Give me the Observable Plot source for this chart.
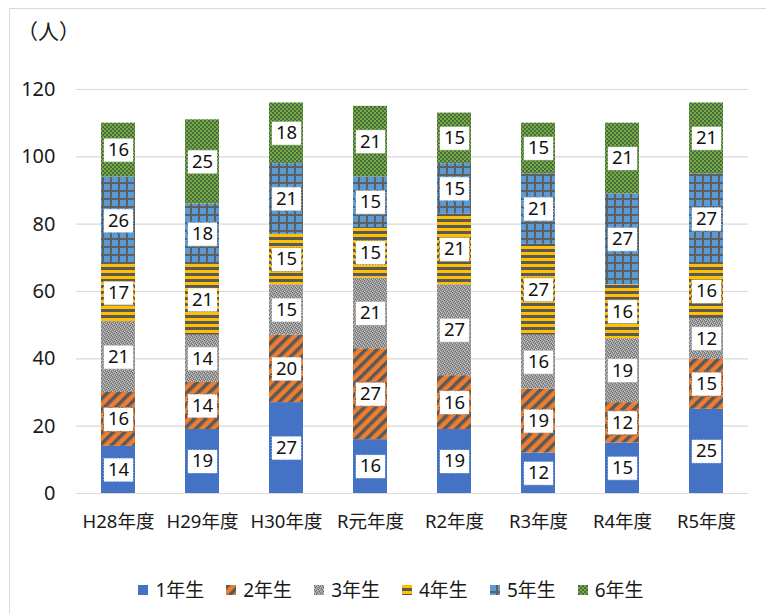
<!DOCTYPE html>
<html><head><meta charset="utf-8">
<script src="https://cdn.jsdelivr.net/npm/d3@7"></script>
<script src="https://cdn.jsdelivr.net/npm/@observablehq/plot@0.6"></script>
<style>
body{margin:0;background:#fff;font-family:"Noto Sans","Noto Sans CJK JP",sans-serif;color:#1a1a1a;}
#wrap{position:relative;width:766px;height:614px;overflow:hidden;background:#fff;}
#frame{position:absolute;left:9px;top:8px;width:800px;height:700px;border:1px solid #d9d9d9;box-sizing:border-box;pointer-events:none}
#legend{display:flex;justify-content:center;align-items:center;gap:22px;font-size:19px;line-height:24px;padding-top:18px;padding-left:16px;}
#legend .it{display:flex;align-items:center;gap:7px;}
</style></head><body><div id="wrap"><div id="frame"></div><div id="chart"></div><div id="legend"></div></div>
<script>
const years = ["H28年度","H29年度","H30年度","R元年度","R2年度","R3年度","R4年度","R5年度"];
const grades = ["1年生","2年生","3年生","4年生","5年生","6年生"];
const g1 = [14,19,27,16,19,12,15,25];
const g2 = [16,14,20,27,16,19,12,15];
const g3 = [21,14,15,21,27,16,19,12];
const g4 = [17,21,15,15,21,27,16,16];
const g5 = [26,18,21,15,15,21,27,27];
const g6 = [16,25,18,21,15,15,21,21];
const yTicks = [0,20,40,60,80,100,120];
const unitLabel = "（人）";

const series = [g1,g2,g3,g4,g5,g6];
const patternUrls = grades.map((g,i)=>`url(#pat${i+1})`);
const data = [];
series.forEach((vals,gi)=>vals.forEach((v,yi)=>data.push({year:years[yi],grade:grades[gi],value:v})));

const boxSymbol = {draw(ctx){ ctx.moveTo(-15,-12); ctx.lineTo(15,-12); ctx.lineTo(15,12); ctx.lineTo(-15,12); ctx.closePath(); }};

const chart = Plot.plot({
  width: 766, height: 560,
  marginLeft: 76, marginRight: 18, marginTop: 89, marginBottom: 67,
  style: {fontFamily:'"Noto Sans","Noto Sans CJK JP",sans-serif', fontSize:"18.5px", color:"#1a1a1a", background:"transparent"},
  x: {domain: years, paddingInner: 0.6, paddingOuter: 0.3, label: null},
  y: {domain: [0,120], label: null},
  color: {type:"ordinal", domain: grades, range: patternUrls},
  marks: [
    Plot.ruleY(yTicks, {stroke:"#d9d9d9", strokeWidth:1.2}),
    Plot.axisY({ticks: yTicks, tickSize:0, tickPadding:21, fontSize:20, label:null}),
    Plot.axisX({tickSize:0, tickPadding:21, label:null}),
    Plot.barY(data, Plot.stackY({x:"year", y:"value", z:"grade", fill:"grade", order:null})),
    Plot.dot(data, Plot.stackY({x:"year", y:"value", z:"grade", order:null, symbol: boxSymbol, fill:"white", stroke:"grade", strokeWidth:1, strokeDasharray:"2 1"})),
    Plot.text(data, Plot.stackY({x:"year", y:"value", z:"grade", order:null, text:"value", fill:"#111", fontSize:18.5})),
    Plot.text([unitLabel], {frameAnchor:"top-left", dx:-28, dy:-57, text:d=>d, textAnchor:"middle", lineAnchor:"middle", fontSize:21})
  ]
});

const defs = `
<pattern id="pat1" patternUnits="userSpaceOnUse" width="4" height="4"><rect width="4" height="4" fill="#4472C4"/></pattern>
<pattern id="pat2" patternUnits="userSpaceOnUse" width="8" height="8" patternTransform="rotate(45)"><rect width="8" height="8" fill="#ED7D31"/><rect width="3.5" height="8" fill="#595959"/></pattern>
<pattern id="pat3" patternUnits="userSpaceOnUse" width="4" height="4"><rect width="4" height="4" fill="#999999"/><rect x="0" y="0" width="1" height="1" fill="#6e6e6e"/><rect x="2" y="1" width="1" height="1" fill="#6e6e6e"/><rect x="1" y="2" width="1" height="1" fill="#6e6e6e"/><rect x="3" y="3" width="1" height="1" fill="#6e6e6e"/><rect x="1" y="0" width="1" height="1" fill="#c4c4c4"/><rect x="3" y="1" width="1" height="1" fill="#c4c4c4"/><rect x="0" y="3" width="1" height="1" fill="#c4c4c4"/><rect x="2" y="2" width="1" height="1" fill="#c4c4c4"/></pattern>
<pattern id="pat4" patternUnits="userSpaceOnUse" width="6" height="6"><rect width="6" height="6" fill="#FFC000"/><rect y="3" width="6" height="3" fill="#595959"/></pattern>
<pattern id="pat5" patternUnits="userSpaceOnUse" width="8" height="8"><rect width="8" height="8" fill="#5B9BD5"/><rect x="6" width="2" height="8" fill="#5f5f5f"/><rect y="6" width="8" height="2" fill="#5f5f5f"/></pattern>
<pattern id="pat6" patternUnits="userSpaceOnUse" width="4" height="4"><rect width="4" height="4" fill="#70AD47"/><rect width="2" height="2" fill="#4f6a3c"/><rect x="2" y="2" width="2" height="2" fill="#4f6a3c"/></pattern>`;
const d = document.createElementNS("http://www.w3.org/2000/svg","defs");
d.innerHTML = defs;
chart.insertBefore(d, chart.firstChild);
document.getElementById("chart").appendChild(chart);

const leg = document.getElementById("legend");
grades.forEach((g,i)=>{
  const it = document.createElement("div"); it.className="it";
  it.innerHTML = `<svg width="10" height="10"><rect width="10" height="10" fill="${patternUrls[i]}"/></svg><span>${g}</span>`;
  leg.appendChild(it);
});
</script></body></html>
